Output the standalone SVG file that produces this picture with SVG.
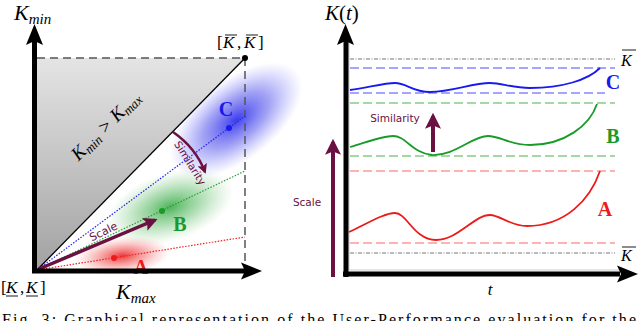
<svg xmlns="http://www.w3.org/2000/svg" width="640" height="321" viewBox="0 0 640 321">
<style>
.math{font-family:"Liberation Serif","Times New Roman",serif;font-style:italic;fill:#000}
.rom{font-family:"Liberation Serif","Times New Roman",serif;fill:#000}
.lab{font-family:"Liberation Serif","Times New Roman",serif;font-weight:bold}
.sans{font-family:"DejaVu Sans","Liberation Sans",sans-serif;fill:#6b1141}
.axis{stroke:#000;stroke-width:5;fill:none}
.mar{stroke:#6b1141;fill:none}
.dash{stroke:#555;stroke-width:1.5;stroke-dasharray:8,5;fill:none}
.dot{stroke-width:1.2;stroke-dasharray:1.5,1.5;fill:none}
.dd{stroke-width:1.3;stroke-dasharray:9,4;fill:none}
.dashdot{stroke:#777;stroke-width:1;stroke-dasharray:4,1.5,1,1.5;fill:none}
.bar{stroke:#000;stroke-width:0.9}
</style>
<defs>
<linearGradient id="gray" x1="0" y1="0" x2="0" y2="1">
<stop offset="0" stop-color="#e2e2e2"/><stop offset="1" stop-color="#9a9a9a"/>
</linearGradient>
<radialGradient id="gb"><stop offset="0" stop-color="#3333ee" stop-opacity="0.95"/><stop offset="0.5" stop-color="#6666ee" stop-opacity="0.6"/><stop offset="1" stop-color="#8888ff" stop-opacity="0"/></radialGradient>
<radialGradient id="gg"><stop offset="0" stop-color="#22a030" stop-opacity="0.8"/><stop offset="0.5" stop-color="#55b860" stop-opacity="0.45"/><stop offset="1" stop-color="#88cc88" stop-opacity="0"/></radialGradient>
<radialGradient id="gr"><stop offset="0" stop-color="#ee2020" stop-opacity="0.9"/><stop offset="0.5" stop-color="#f06060" stop-opacity="0.5"/><stop offset="1" stop-color="#ff9090" stop-opacity="0"/></radialGradient>
<marker id="mh" viewBox="0 0 10 10" refX="8" refY="5" markerWidth="4" markerHeight="4" orient="auto" markerUnits="strokeWidth">
<path d="M0,0 L10,5 L0,10 L2,5 Z" fill="#6b1141"/></marker>
</defs>

<g id="left-plot">
<ellipse cx="236" cy="120" rx="78" ry="40" transform="rotate(-38 236 120)" fill="url(#gb)"/>
<ellipse cx="170" cy="207" rx="66" ry="34" transform="rotate(-18 170 207)" fill="url(#gg)"/>
<ellipse cx="122" cy="256" rx="48" ry="19" transform="rotate(-6 122 256)" fill="url(#gr)"/>
<polygon points="37,58 245,58 37,270" fill="url(#gray)" opacity="0.92"/>
<line class="dash" x1="37" y1="58" x2="245" y2="58"/>
<line class="dash" x1="245" y1="58" x2="245" y2="270"/>
<line x1="37" y1="270" x2="245" y2="58" stroke="#000" stroke-width="1.3"/>
<circle cx="245" cy="58" r="3" fill="#000"/>
</g>

<g id="connectors">
<line class="dot" stroke="#2222ee" x1="37" y1="270" x2="245" y2="116"/>
<line class="dot" stroke="#22a030" x1="37" y1="270" x2="245" y2="171"/>
<line class="dot" stroke="#ee2020" x1="37" y1="270" x2="245" y2="237"/>
<line class="mar" stroke-width="3.5" x1="39" y1="269" x2="155" y2="220" marker-end="url(#mh)"/>
<path class="mar" stroke-width="2.5" d="M173,132 Q196,148 205,172" marker-end="url(#mh)"/>
<line class="mar" stroke-width="4" x1="433" y1="152" x2="433" y2="116" marker-end="url(#mh)"/>
<line class="mar" stroke-width="4" x1="333" y1="277" x2="333" y2="142" marker-end="url(#mh)"/>
</g>

<g id="node-C"><circle cx="229" cy="128" r="3" fill="#1a1aee"/><text class="lab" x="226" y="116" font-size="20" fill="#1a1aee" text-anchor="middle">C</text></g>
<g id="node-B"><circle cx="162" cy="211" r="3" fill="#1a9a2a"/><text class="lab" x="180" y="231" font-size="20" fill="#1a9a2a" text-anchor="middle">B</text></g>
<g id="node-A"><circle cx="114" cy="258" r="3" fill="#ee1a1a"/><text class="lab" x="141" y="274" font-size="20" fill="#ee1a1a" text-anchor="middle">A</text></g>

<g id="left-axes">
<line class="axis" x1="34.5" y1="273" x2="34.5" y2="40"/>
<polygon points="34.5,24 26,45 34.5,41 43,45" fill="#000"/>
<line class="axis" x1="32" y1="271" x2="245" y2="271"/>
<polygon points="262,271 241,262.5 245,271 241,279.5" fill="#000"/>
</g>

<g id="left-labels">
<text class="math" x="14" y="20" font-size="22">K<tspan font-size="15" dy="4">min</tspan></text>
<text class="math" x="116" y="299" font-size="22">K<tspan font-size="15" dy="4">max</tspan></text>
<text class="rom" x="217" y="48" font-size="17">[</text>
<text class="math" x="223" y="48" font-size="17">K</text>
<text class="rom" x="237" y="48" font-size="17">,</text>
<text class="math" x="244" y="48" font-size="17">K</text>
<text class="rom" x="258" y="48" font-size="17">]</text>
<line class="bar" x1="225" y1="35" x2="237" y2="35"/>
<line class="bar" x1="246" y1="35" x2="258" y2="35"/>
<text class="rom" x="1" y="293" font-size="17">[</text>
<text class="math" x="6" y="293" font-size="17">K</text>
<text class="rom" x="20" y="293" font-size="17">,</text>
<text class="math" x="26" y="293" font-size="17">K</text>
<text class="rom" x="40" y="293" font-size="17">]</text>
<line class="bar" x1="6" y1="296" x2="18" y2="296"/>
<line class="bar" x1="26" y1="296" x2="38" y2="296"/>
<text class="math" font-size="19" transform="translate(110,130) rotate(-45)" text-anchor="middle">K<tspan font-size="13" dy="3">min</tspan><tspan dy="-3"> &gt; K</tspan><tspan font-size="13" dy="3">max</tspan></text>
<text class="sans" font-size="11" transform="translate(105,235) rotate(-26)" text-anchor="middle">Scale</text>
<text class="sans" font-size="10.5" transform="translate(187,165) rotate(58)" text-anchor="middle">Similarity</text>
</g>

<g id="right-plot">
<line x1="349" y1="270" x2="620" y2="270" stroke="#ccc" stroke-width="1"/>
<line x1="349" y1="40" x2="349" y2="270" stroke="#ccc" stroke-width="1"/>
<line class="dashdot" x1="350" y1="59" x2="615" y2="59"/>
<line class="dashdot" x1="350" y1="253" x2="615" y2="253"/>
<line class="dd" stroke="#8888ff" x1="350" y1="68" x2="615" y2="68"/>
<line class="dd" stroke="#8888ff" x1="350" y1="93" x2="605" y2="93"/>
<line class="dd" stroke="#88cc88" x1="350" y1="103" x2="615" y2="103"/>
<line class="dd" stroke="#88cc88" x1="350" y1="156" x2="615" y2="156"/>
<line class="dd" stroke="#ff9999" x1="350" y1="171" x2="615" y2="171"/>
<line class="dd" stroke="#ff9999" x1="350" y1="243" x2="615" y2="243"/>
</g>

<g id="curve-C"><path d="M350,90 C370,87 385,83 395,83 C407,83 412,92 430,92 C452,92 472,83 490,83 C502,83 512,88 530,88 C562,88 588,80 600,68" stroke="#1a1aee" stroke-width="1.8" fill="none"/>
<text class="lab" x="613" y="89" font-size="20" fill="#1a1aee" text-anchor="middle">C</text></g>
<g id="curve-B"><path d="M350,147 C370,141 383,136 393,136 C406,136 412,153 432,155 C455,156 472,136 488,136 C500,136 510,145 530,145 C565,145 590,125 597,104" stroke="#1a9a2a" stroke-width="1.8" fill="none"/>
<text class="lab" x="613" y="143" font-size="20" fill="#1a9a2a" text-anchor="middle">B</text></g>
<g id="curve-A"><path d="M349,232 C370,222 385,213 395,213 C407,213 414,240 436,240 C458,240 474,215 490,215 C500,215 510,226 527,226 C565,226 590,200 600,171" stroke="#ee1a1a" stroke-width="1.8" fill="none"/>
<text class="lab" x="605" y="216" font-size="20" fill="#ee1a1a" text-anchor="middle">A</text></g>

<g id="right-axes">
<line class="axis" x1="346" y1="277" x2="346" y2="40"/>
<polygon points="345.5,24 337,45 345.5,41 354,45" fill="#000"/>
<line class="axis" x1="343" y1="274" x2="620" y2="274"/>
<polygon points="638,274 617,265.5 621,274 617,282.5" fill="#000"/>
</g>

<g id="right-labels">
<text class="math" x="325" y="20" font-size="21">K<tspan font-style="normal">(</tspan>t<tspan font-style="normal">)</tspan></text>
<text class="math" x="621" y="66" font-size="16">K</text>
<line class="bar" x1="622" y1="50" x2="636" y2="50"/>
<text class="math" x="621" y="261" font-size="16">K</text>
<line class="bar" x1="622" y1="247" x2="636" y2="247"/>
<text class="math" x="490" y="295" font-size="17" text-anchor="middle">t</text>
<text class="sans" x="395" y="122" font-size="10.5" text-anchor="middle">Similarity</text>
<text class="sans" x="307" y="206" font-size="10.5" text-anchor="middle">Scale</text>
</g>

<text class="rom" x="2" y="325" font-size="16" textLength="634" lengthAdjust="spacing">Fig. 3: Graphical representation of the User-Performance evaluation for the</text>
</svg>
